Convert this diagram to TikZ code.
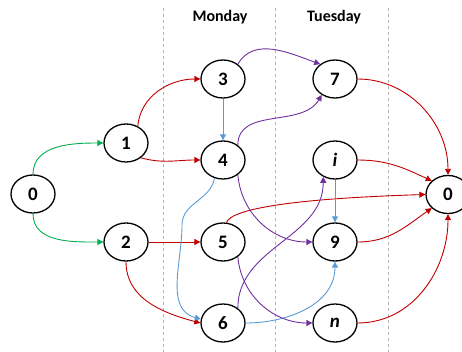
\documentclass[tikz,border=0pt]{standalone}
\usepackage{fontspec}
\setmainfont{Carlito}
\usetikzlibrary{shapes.geometric,arrows.meta}
\definecolor{cgreen}{HTML}{00B050}
\definecolor{cred}{HTML}{C00000}
\definecolor{cblue}{HTML}{5B9BD5}
\definecolor{cpurple}{HTML}{7030A0}
\tikzset{
  state/.style={ellipse,draw=black,line width=1.3pt,minimum width=44pt,minimum height=38pt,
    inner sep=0pt,font=\bfseries\fontsize{19}{19}\selectfont},
  link/.style={line width=0.9pt,-{Triangle[length=6pt,width=6pt]}},
  gl/.style={link,draw=cgreen},
  rl/.style={link,draw=cred},
  bl/.style={link,draw=cblue},
  pl/.style={link,draw=cpurple},
  divider/.style={draw=gray!60,line width=0.8pt,dash pattern=on 3pt off 3pt},
  day/.style={font=\bfseries\fontsize{16}{16}\selectfont}
}
\begin{document}
\begin{tikzpicture}[x=1pt,y=-1pt]
\useasboundingbox (0,0) rectangle (462,352);
% day columns
\draw[divider] (163,8) -- (163,352);
\draw[divider] (275,8) -- (275,352);
\draw[divider] (388,8) -- (388,352);
\node[day] (mon) at (220,17) {Monday};
\node[day] (tue) at (334,17) {Tuesday};
% states
\node[state] (s0) at (33,194) {0};
\node[state] (s1) at (126,143) {1};
\node[state] (s2) at (126,242) {2};
\node[state] (s3) at (223,79) {3};
\node[state] (s4) at (223,160) {4};
\node[state] (s5) at (223,242) {5};
\node[state] (s6) at (223,323) {6};
\node[state] (s7) at (335,79) {7};
\node[state] (si) at (335,160) {\itshape i};
\node[state] (s9) at (335,242) {9};
\node[state] (sn) at (335,323) {\itshape n};
\node[state] (t0) at (448,194.5) {0};
\coordinate (b46) at (182,225);
% green arcs
\draw[gl] (s0.north) to[out=90,in=180] (s1.west);
\draw[gl] (s0.south) to[out=-90,in=180] (s2.west);
% red arcs
\draw[rl] (s1.55) to[out=85,in=180] (s3.west);
\draw[rl] (s1.-45) to[out=-15,in=180] (s4.west);
\draw[rl] (s2.east) -- (s5.west);
\draw[rl] (s2.south) to[out=-90,in=165] (s6.west);
\draw[rl] (s5.80) .. controls +(5,-14) and +(-130,4) .. (t0.west);
\draw[rl] (s7.east) to[out=0,in=90] (t0.north);
\draw[rl] (si.east) to[out=0,in=155] (t0.140);
\draw[rl] (s9.east) to[out=0,in=-145] (t0.-140);
\draw[rl] (sn.east) to[out=0,in=-90] (t0.south);
% blue arcs
\draw[bl] (s3.south) -- (s4.north);
\draw[bl] (si.south) -- (s9.north);
\draw[bl] (s4.245) to[out=-100,in=90] (b46) to[out=-90,in=165] (s6.170);
\draw[bl] (s6.east) to[out=0,in=-90] (s9.south);
% purple arcs
\draw[pl] (s3.45) to[out=60,in=160] (s7.135);
\draw[pl] (s4.45) to[out=90,in=-120] (s7.-130);
\draw[pl] (s4.-45) to[out=-85,in=180] (s9.west);
\draw[pl] (s5.-45) to[out=-85,in=180] (sn.west);
\draw[pl] (s6.45) to[out=90,in=-90] (si.-125);
\end{tikzpicture}
\end{document}
